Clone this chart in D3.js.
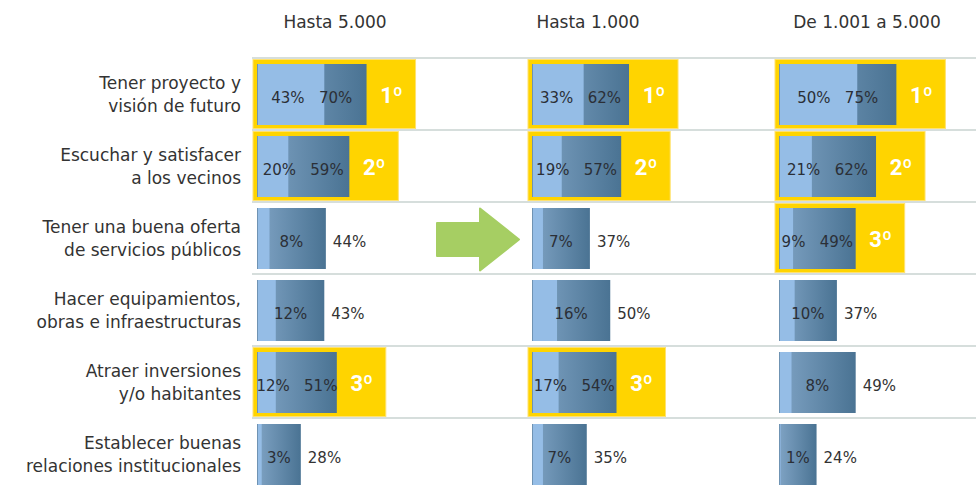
<!DOCTYPE html>
<html>
<head>
<meta charset="utf-8">
<script src="https://cdn.jsdelivr.net/npm/d3@7"></script>
<style>
  html, body { margin: 0; padding: 0; background: #ffffff; }
  svg { display: block; }
</style>
</head>
<body>
<svg id="chart" width="976" height="485"></svg>
<script>
// ---- DATA ----
const categories = [
  "Tener proyecto y\nvisión de futuro",
  "Escuchar y satisfacer\na los vecinos",
  "Tener una buena oferta\nde servicios públicos",
  "Hacer equipamientos,\nobras e infraestructuras",
  "Atraer inversiones\ny/o habitantes",
  "Establecer buenas\nrelaciones institucionales"
];
const columns = ["Hasta 5.000", "Hasta 1.000", "De 1.001 a 5.000"];

// first-choice % (light) and total % (dark), rank (1º,2º,3º) per column
const firstHasta5000 = [43, 20, 8, 12, 12, 3];
const totalHasta5000 = [70, 59, 44, 43, 51, 28];
const rankHasta5000  = [1, 2, null, null, 3, null];

const firstHasta1000 = [33, 19, 7, 16, 17, 7];
const totalHasta1000 = [62, 57, 37, 50, 54, 35];
const rankHasta1000  = [1, 2, null, null, 3, null];

const first1001a5000 = [50, 21, 9, 10, 8, 1];
const total1001a5000 = [75, 62, 49, 37, 49, 24];
const rank1001a5000  = [1, 2, 3, null, null, null];

const seriesByColumn = [
  { first: firstHasta5000, total: totalHasta5000, rank: rankHasta5000 },
  { first: firstHasta1000, total: totalHasta1000, rank: rankHasta1000 },
  { first: first1001a5000, total: total1001a5000, rank: rank1001a5000 }
];

// ---- LAYOUT ----
const svg = d3.select("#chart");
const colStart = d3.scaleOrdinal().domain(columns).range([257, 532, 779]);
const headerX  = d3.scaleOrdinal().domain(columns).range([335, 588, 867]);
const x = d3.scaleLinear().domain([0, 100]).range([0, 156.5]);
const y = d3.scaleBand().domain(categories).range([58, 490]).paddingInner(0).paddingOuter(0);

const FONT = "'DejaVu Sans', sans-serif";
const lightBlue = "#95bde6";
const yellow = "#ffd400";

// gradient for dark bars
const defs = svg.append("defs");
const grad = defs.append("linearGradient").attr("id", "darkGrad")
  .attr("x1", "0%").attr("x2", "100%").attr("y1", "0%").attr("y2", "0%");
grad.append("stop").attr("offset", "0%").attr("stop-color", "#7fa3c4");
grad.append("stop").attr("offset", "100%").attr("stop-color", "#4a7393");

// separator lines
const lineYs = [y.range()[0]].concat(categories.map(c => y(c) + y.bandwidth()));
svg.append("g").selectAll("line").data(lineYs).join("line")
  .attr("x1", 252).attr("x2", 976)
  .attr("y1", d => d).attr("y2", d => d)
  .attr("stroke", "#d6dedc").attr("stroke-width", 2);

// headers
svg.append("g").selectAll("text").data(columns).join("text")
  .attr("x", d => headerX(d)).attr("y", 28)
  .attr("text-anchor", "middle")
  .attr("font-family", FONT).attr("font-size", 17).attr("fill", "#333")
  .text(d => d);

// row labels
const rowLabels = svg.append("g").selectAll("text").data(categories).join("text")
  .attr("text-anchor", "end")
  .attr("font-family", FONT).attr("font-size", 17).attr("fill", "#333");
rowLabels.each(function(d) {
  const lines = d.split("\n");
  const cy = y(d) + y.bandwidth() / 2;
  d3.select(this).selectAll("tspan").data(lines).join("tspan")
    .attr("x", 241)
    .attr("y", (l, i) => cy - 5 + i * 23)
    .text(l => l);
});

// arrow (decoration between first and second column)
const aTip = colStart(columns[1]) - 13;
const aCy = y(categories[2]) + y.bandwidth() / 2 + 1.5;
const arrowPath = d3.path();
arrowPath.moveTo(aTip - 82, aCy - 16.5);
arrowPath.lineTo(aTip - 39, aCy - 16.5);
arrowPath.lineTo(aTip - 39, aCy - 31);
arrowPath.lineTo(aTip, aCy);
arrowPath.lineTo(aTip - 39, aCy + 31);
arrowPath.lineTo(aTip - 39, aCy + 16.5);
arrowPath.lineTo(aTip - 82, aCy + 16.5);
arrowPath.closePath();
svg.append("path").attr("d", arrowPath.toString())
  .attr("fill", "#a6ce63").attr("stroke", "#a6ce63")
  .attr("stroke-width", 2).attr("stroke-linejoin", "round");

// bars
const barH = 61;
columns.forEach((col, ci) => {
  const s = seriesByColumn[ci];
  const x0 = colStart(col);
  const rows = categories.map((cat, i) => ({
    cat, first: s.first[i], total: s.total[i], rank: s.rank[i]
  }));
  const g = svg.append("g");

  // yellow rank boxes
  g.selectAll("rect.box").data(rows.filter(r => r.rank)).join("rect")
    .attr("class", "box")
    .attr("x", x0 - 4)
    .attr("y", r => y(r.cat) + y.bandwidth() / 2 - 34.5)
    .attr("width", r => x(r.total) + 53)
    .attr("height", 69)
    .attr("fill", yellow).attr("stroke", "#ffe270").attr("stroke-width", 1);

  // dark (total) bars
  g.selectAll("rect.total").data(rows).join("rect")
    .attr("class", "total")
    .attr("x", x0)
    .attr("y", r => y(r.cat) + y.bandwidth() / 2 - barH / 2 + 0.5)
    .attr("width", r => x(r.total))
    .attr("height", barH)
    .attr("fill", "url(#darkGrad)");

  // light (first choice) bars
  g.selectAll("rect.first").data(rows).join("rect")
    .attr("class", "first")
    .attr("x", x0)
    .attr("y", r => y(r.cat) + y.bandwidth() / 2 - barH / 2 + 0.5)
    .attr("width", r => x(r.first))
    .attr("height", barH)
    .attr("fill", lightBlue);

  // left edge line
  g.selectAll("line.edge").data(rows).join("line")
    .attr("class", "edge")
    .attr("x1", x0 + 0.5).attr("x2", x0 + 0.5)
    .attr("y1", r => y(r.cat) + y.bandwidth() / 2 - barH / 2 + 0.5)
    .attr("y2", r => y(r.cat) + y.bandwidth() / 2 + barH / 2 + 0.5)
    .attr("stroke", "#6f93b3").attr("stroke-width", 1);

  // labels for ranked rows: pair centred in bar
  g.selectAll("text.pair").data(rows.filter(r => r.rank)).join("text")
    .attr("class", "pair")
    .attr("x", r => x0 + x(r.total) / 2)
    .attr("y", r => y(r.cat) + y.bandwidth() / 2 + 9)
    .attr("text-anchor", "middle")
    .attr("font-family", FONT).attr("font-size", 15).attr("fill", "#2b2f36")
    .text(r => `${r.first}%\u00a0\u00a0\u00a0${r.total}%`);

  // labels for non-ranked rows
  const plain = rows.filter(r => !r.rank);
  g.selectAll("text.inner").data(plain).join("text")
    .attr("class", "inner")
    .attr("x", r => x0 + x(r.total) / 2)
    .attr("y", r => y(r.cat) + y.bandwidth() / 2 + 9)
    .attr("text-anchor", "middle")
    .attr("font-family", FONT).attr("font-size", 15).attr("fill", "#2b2f36")
    .text(r => `${r.first}%`);
  g.selectAll("text.outer").data(plain).join("text")
    .attr("class", "outer")
    .attr("x", r => x0 + x(r.total) + 7)
    .attr("y", r => y(r.cat) + y.bandwidth() / 2 + 9)
    .attr("text-anchor", "start")
    .attr("font-family", FONT).attr("font-size", 15).attr("fill", "#333")
    .text(r => `${r.total}%`);

  // rank labels
  g.selectAll("text.rank").data(rows.filter(r => r.rank)).join("text")
    .attr("class", "rank")
    .attr("x", r => x0 + x(r.total) + 25)
    .attr("y", r => y(r.cat) + y.bandwidth() / 2 + 9)
    .attr("text-anchor", "middle")
    .attr("font-family", "Roboto, 'Open Sans', sans-serif").attr("font-weight", "bold")
    .attr("font-size", 22).attr("fill", "#ffffff")
    .text(r => `${r.rank}º`);
});
</script>
</body>
</html>
